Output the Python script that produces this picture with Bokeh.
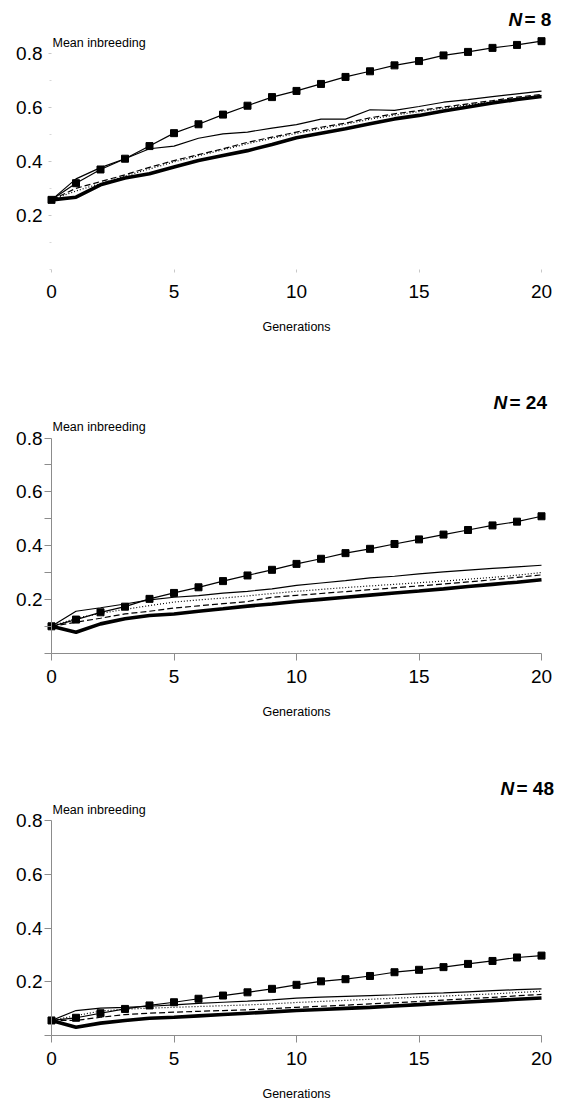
from bokeh.plotting import figure
from bokeh.models import Range1d, LinearAxis, FixedTicker, Label, ColumnDataSource
from bokeh.layouts import column
from bokeh.embed import file_html
from bokeh.resources import INLINE

generations = list(range(21))

# N = 8
n8_squares = [0.257, 0.319, 0.370, 0.410, 0.457, 0.505, 0.538, 0.574, 0.607, 0.639, 0.662,
              0.688, 0.714, 0.735, 0.757, 0.773, 0.794, 0.807, 0.822, 0.833, 0.847]
n8_thin = [0.257, 0.335, 0.377, 0.410, 0.447, 0.457, 0.486, 0.502, 0.509, 0.524, 0.537,
           0.557, 0.557, 0.592, 0.590, 0.604, 0.620, 0.630, 0.641, 0.651, 0.661]
n8_dotted = [0.257, 0.290, 0.318, 0.345, 0.372, 0.398, 0.421, 0.443, 0.466, 0.486, 0.504,
             0.522, 0.538, 0.557, 0.572, 0.585, 0.598, 0.610, 0.622, 0.635, 0.645]
n8_dashed = [0.257, 0.300, 0.325, 0.350, 0.378, 0.403, 0.425, 0.447, 0.471, 0.490, 0.509,
             0.527, 0.542, 0.562, 0.577, 0.589, 0.602, 0.614, 0.626, 0.639, 0.649]
n8_thick = [0.257, 0.267, 0.313, 0.338, 0.354, 0.379, 0.403, 0.422, 0.440, 0.463, 0.488,
            0.505, 0.521, 0.540, 0.558, 0.571, 0.587, 0.602, 0.617, 0.630, 0.641]

# N = 24
n24_squares = [0.100, 0.125, 0.152, 0.173, 0.202, 0.224, 0.245, 0.268, 0.289, 0.310, 0.332,
               0.351, 0.372, 0.388, 0.406, 0.423, 0.441, 0.458, 0.475, 0.489, 0.509]
n24_thin = [0.100, 0.156, 0.169, 0.183, 0.198, 0.208, 0.214, 0.223, 0.230, 0.239, 0.252,
            0.261, 0.270, 0.280, 0.286, 0.295, 0.302, 0.309, 0.315, 0.321, 0.327]
n24_dotted = [0.100, 0.130, 0.148, 0.163, 0.177, 0.190, 0.198, 0.205, 0.213, 0.222, 0.230,
              0.237, 0.244, 0.250, 0.256, 0.262, 0.268, 0.275, 0.282, 0.290, 0.300]
n24_dashed = [0.100, 0.115, 0.130, 0.146, 0.156, 0.168, 0.176, 0.184, 0.192, 0.208, 0.215,
              0.222, 0.229, 0.236, 0.243, 0.250, 0.257, 0.265, 0.273, 0.282, 0.291]
n24_thick = [0.100, 0.078, 0.109, 0.128, 0.140, 0.146, 0.156, 0.165, 0.175, 0.183, 0.192,
             0.200, 0.208, 0.216, 0.224, 0.231, 0.239, 0.248, 0.256, 0.264, 0.273]

# N = 48
n48_squares = [0.055, 0.065, 0.082, 0.098, 0.111, 0.123, 0.136, 0.148, 0.160, 0.173, 0.188,
               0.201, 0.209, 0.221, 0.235, 0.244, 0.254, 0.266, 0.277, 0.290, 0.297]
n48_thin = [0.055, 0.092, 0.101, 0.104, 0.108, 0.113, 0.119, 0.123, 0.127, 0.132, 0.138,
            0.142, 0.145, 0.148, 0.151, 0.155, 0.158, 0.162, 0.166, 0.170, 0.173]
n48_dotted = [0.055, 0.073, 0.090, 0.097, 0.101, 0.104, 0.107, 0.110, 0.113, 0.117, 0.122,
              0.126, 0.130, 0.134, 0.138, 0.142, 0.146, 0.150, 0.154, 0.159, 0.164]
n48_dashed = [0.055, 0.055, 0.067, 0.077, 0.082, 0.086, 0.089, 0.092, 0.095, 0.099, 0.104,
              0.108, 0.112, 0.117, 0.121, 0.126, 0.131, 0.136, 0.141, 0.147, 0.152]
n48_thick = [0.055, 0.030, 0.045, 0.055, 0.063, 0.067, 0.072, 0.077, 0.082, 0.087, 0.092,
             0.096, 0.100, 0.104, 0.109, 0.114, 0.119, 0.124, 0.129, 0.134, 0.139]

x_ticks = [0, 5, 10, 15, 20]
y_ticks = [0.2, 0.4, 0.6, 0.8]
panel_titles = ["8", "24", "48"]

FONT = "Liberation Sans"
W = 563
X0, XS = 51.0, 24.5  # pixel of generation 0, pixels per generation

# (height, pixel of y=0 from top, px per unit, N-label left px, N-label centre px, style, minor ticks)
geoms = [
    (365, 268.5, 269.0, 508, 19, "faint", [0.0, 0.1, 0.3, 0.5, 0.7]),
    (367, 287.7, 269.0, 493, 37, "grey", [0.0, 0.1, 0.3, 0.5, 0.7]),
    (367, 302.7, 268.0, 500, 56, "grey", [0.0]),
]
series = [
    (n8_squares, n8_thin, n8_dotted, n8_dashed, n8_thick),
    (n24_squares, n24_thin, n24_dotted, n24_dashed, n24_thick),
    (n48_squares, n48_thin, n48_dotted, n48_dashed, n48_thick),
]

plots = []
for (H, Y0, S, nx, ny, style, minor), (sq, thin, dot, dash, thick), title in zip(geoms, series, panel_titles):
    p = figure(width=W, height=H,
               x_range=Range1d(-X0 / XS, (W - X0) / XS),
               y_range=Range1d((Y0 - H) / S, Y0 / S),
               x_axis_type=None, y_axis_type=None,
               toolbar_location=None, output_backend="svg",
               min_border=0, min_border_left=0, min_border_right=0,
               min_border_top=0, min_border_bottom=0)
    p.outline_line_color = None
    p.background_fill_color = "white"
    p.border_fill_color = "white"

    src = ColumnDataSource(dict(g=generations, sq=sq, thin=thin, dot=dot, dash=dash, thick=thick))
    p.line("g", "thick", source=src, line_color="black", line_width=3.6)
    p.line("g", "dash", source=src, line_color="black", line_width=1.2, line_dash="6 3")
    p.line("g", "dot", source=src, line_color="black", line_width=1.2, line_dash="1 2")
    p.line("g", "thin", source=src, line_color="black", line_width=1.2)
    p.line("g", "sq", source=src, line_color="black", line_width=1.2)
    p.scatter("g", "sq", source=src, marker="square", size=7,
              fill_color="black", line_color="black")

    axc = "#8c8c8c"
    xaxis = LinearAxis(fixed_location=0, bounds=(0, 20),
                       ticker=FixedTicker(ticks=x_ticks, minor_ticks=[]),
                       axis_label="Generations")
    yaxis = LinearAxis(fixed_location=0, bounds=(0, 0.8),
                       ticker=FixedTicker(ticks=y_ticks, minor_ticks=minor))
    for ax in (xaxis, yaxis):
        ax.major_label_text_font = FONT
        ax.major_label_text_font_size = "19px"
        ax.major_label_text_color = "black"
        ax.axis_label_text_font = FONT
        ax.axis_label_text_font_size = "12.5px"
        ax.axis_label_text_font_style = "normal"
        ax.axis_label_text_color = "black"
        ax.major_tick_in = 0
        ax.minor_tick_in = 0
        if style == "faint":
            ax.axis_line_color = None
            ax.major_tick_line_color = "#c8c8c8"
            ax.minor_tick_line_color = "#d8d8d8"
            ax.major_tick_out = 3
            ax.minor_tick_out = 2
        else:
            ax.axis_line_color = axc
            ax.major_tick_line_color = axc
            ax.minor_tick_line_color = axc
            ax.major_tick_out = 7
            ax.minor_tick_out = 7
    if style == "faint":
        yaxis.major_label_standoff = 6
        xaxis.major_label_standoff = 13
    else:
        yaxis.major_label_standoff = 2
        xaxis.major_label_standoff = 10
    xaxis.axis_label_standoff = 18
    p.add_layout(xaxis, "below")
    p.add_layout(yaxis, "left")

    p.add_layout(Label(x=0, y=0.8, text="Mean inbreeding", text_font=FONT,
                       text_font_size="12.5px", text_baseline="middle",
                       x_offset=1, y_offset=11, text_color="black"))
    lx = (nx - X0) / XS
    ly = (Y0 - ny) / S
    p.add_layout(Label(x=lx, y=ly, text="N", text_font=FONT, text_font_size="19px",
                       text_font_style="bold italic", text_baseline="middle",
                       text_color="black"))
    p.add_layout(Label(x=lx, y=ly, x_offset=16, text="= " + title, text_font=FONT,
                       text_font_size="19px", text_font_style="bold",
                       text_baseline="middle", text_color="black"))
    plots.append(p)

layout = column(*plots, spacing=0)
open("out.html", "w").write(file_html(layout, INLINE))
